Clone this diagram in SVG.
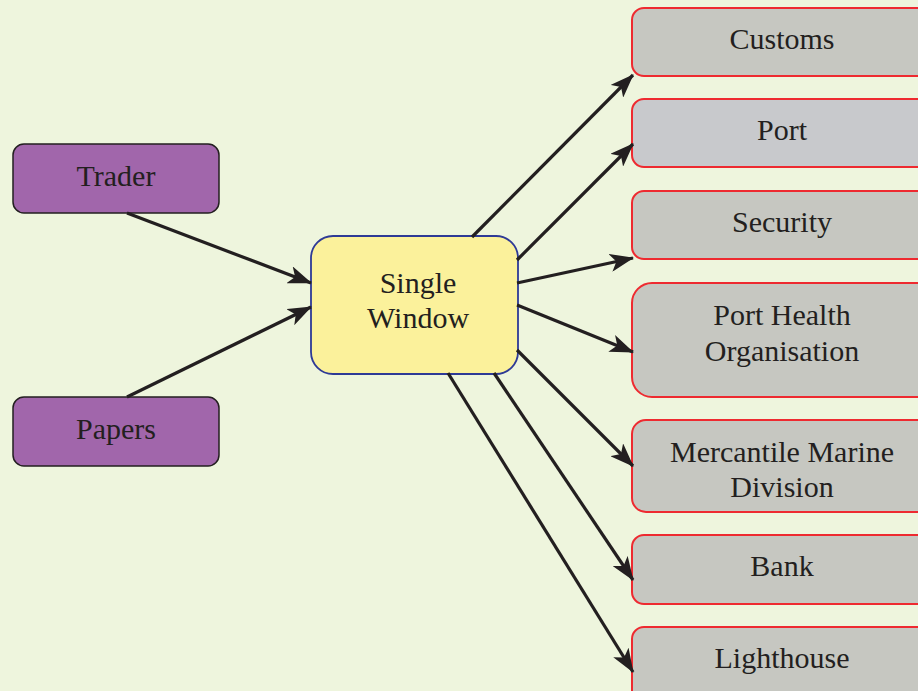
<svg xmlns="http://www.w3.org/2000/svg" width="918" height="691" viewBox="0 0 918 691">
<defs>
<style>
.bg{fill:#eef5dd}
.src rect{fill:#a166ab;stroke:#231f20;stroke-width:1.5}
.hub rect{fill:#fbf19b;stroke:#2e3a96;stroke-width:1.8}
.dst rect{fill:#c6c7c1;stroke:#ee2a30;stroke-width:2}
.dst.alt rect{fill:#c8c9cc}
text{font-family:'Times New Roman','Liberation Serif',serif;font-size:30px;fill:#231f20;text-anchor:middle}
.edges line{stroke:#231f20;stroke-width:3.2;marker-end:url(#ah)}
</style>
<marker id="ah" markerUnits="userSpaceOnUse" markerWidth="24" markerHeight="18" refX="23" refY="9" orient="auto" viewBox="0 0 24 18">
<path d="M0,0 L24,9 L0,18 L6,9 z" fill="#231f20"/>
</marker>
</defs>
<rect class="bg" x="0" y="0" width="918" height="691"/>
<g id="n-trader" class="src"><rect x="13" y="144" width="206" height="69" rx="11"/><text x="116" y="186">Trader</text></g>
<g id="n-papers" class="src"><rect x="13" y="397" width="206" height="69" rx="11"/><text x="116" y="439">Papers</text></g>
<g id="n-sw" class="hub"><rect x="311" y="236" width="207" height="138" rx="22"/><text x="418" y="293">Single</text><text x="418" y="328">Window</text></g>
<g id="n-customs" class="dst"><rect x="632" y="8" width="320" height="68" rx="12"/><text x="782" y="49">Customs</text></g>
<g id="n-port" class="dst alt"><rect x="632" y="99" width="320" height="68" rx="12"/><text x="782" y="140">Port</text></g>
<g id="n-security" class="dst"><rect x="632" y="191" width="320" height="68" rx="12"/><text x="782" y="232">Security</text></g>
<g id="n-porthealth" class="dst"><rect x="632" y="283" width="320" height="114" rx="20"/><text x="782" y="325">Port Health</text><text x="782" y="361">Organisation</text></g>
<g id="n-mercantile" class="dst"><rect x="632" y="420" width="320" height="92" rx="14"/><text x="782" y="462">Mercantile Marine</text><text x="782" y="497">Division</text></g>
<g id="n-bank" class="dst"><rect x="632" y="535" width="320" height="69" rx="12"/><text x="782" y="576">Bank</text></g>
<g id="n-lighthouse" class="dst"><rect x="632" y="627" width="320" height="90" rx="12"/><text x="782" y="668">Lighthouse</text></g>
<g id="edges" class="edges">
<line x1="127" y1="213" x2="311" y2="283"/>
<line x1="127" y1="397" x2="311" y2="307"/>
<line x1="472" y1="237" x2="633" y2="75"/>
<line x1="517" y1="260" x2="633" y2="144"/>
<line x1="517" y1="283" x2="633" y2="258"/>
<line x1="517" y1="305" x2="633" y2="352"/>
<line x1="517" y1="350" x2="633" y2="466"/>
<line x1="494" y1="373" x2="633" y2="580"/>
<line x1="448" y1="373" x2="633" y2="672"/>
</g>
</svg>
